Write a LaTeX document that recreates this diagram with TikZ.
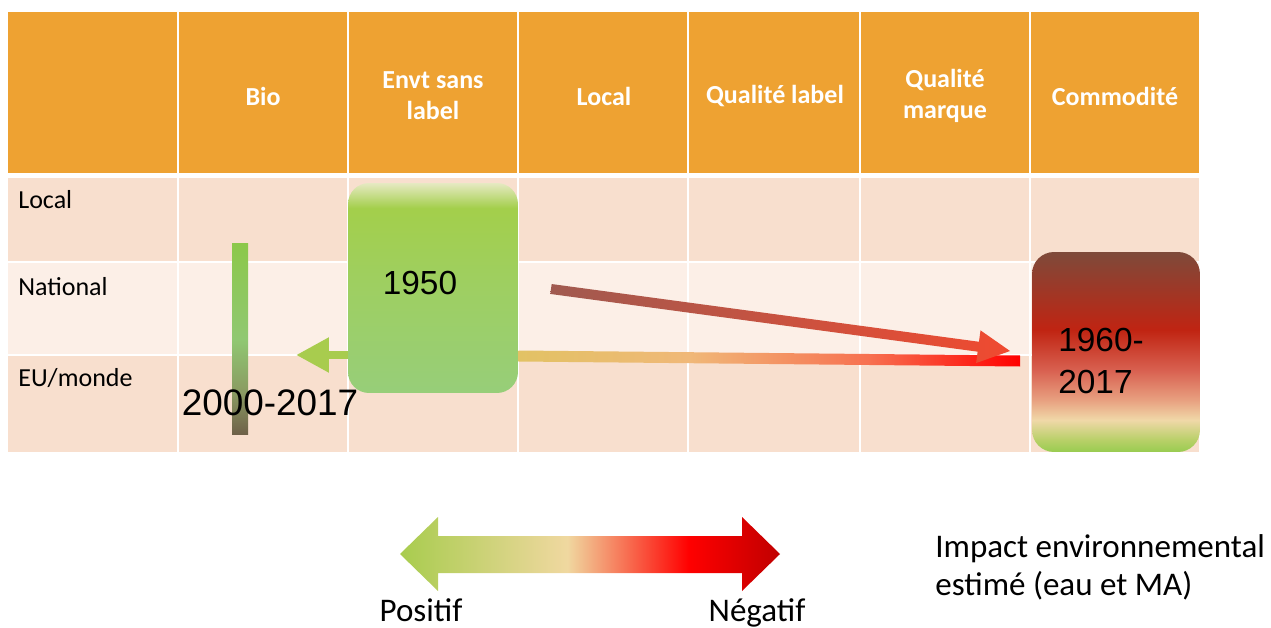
\documentclass[tikz,border=0pt]{standalone}
\usepackage{fontspec}
\setmainfont{Carlito}
\newfontfamily\arialfont{Liberation Sans}
\usetikzlibrary{arrows.meta,positioning,calc}
\definecolor{hdrorange}{HTML}{EEA232}
\definecolor{rowpeach}{HTML}{F8DFCE}
\definecolor{rowlight}{HTML}{FCEFE7}
\definecolor{leafgreen}{HTML}{A8CC4E}
\definecolor{paleleaf}{HTML}{E6E9C2}
\definecolor{grassgreen}{HTML}{A3CF4B}
\definecolor{midgreen}{HTML}{9ECF62}
\definecolor{softgreen}{HTML}{97CE79}
\definecolor{mossgreen}{HTML}{8CC84A}
\definecolor{sagegreen}{HTML}{90C872}
\definecolor{olivegrey}{HTML}{8A9A62}
\definecolor{mudbrown}{HTML}{6E6048}
\definecolor{rustbrown}{HTML}{7E4A3A}
\definecolor{bloodred}{HTML}{C02412}
\definecolor{salmon}{HTML}{D86050}
\definecolor{peachpink}{HTML}{E8A080}
\definecolor{wheat}{HTML}{F0D8A8}
\definecolor{limewash}{HTML}{B8D068}
\definecolor{springgreen}{HTML}{98CC50}
\definecolor{straw}{HTML}{E2C264}
\definecolor{apricot}{HTML}{F0B878}
\definecolor{coral}{HTML}{F77050}
\definecolor{purered}{HTML}{FF0000}
\definecolor{darkred}{HTML}{C00000}
\definecolor{beige}{HTML}{F0D8A0}
\definecolor{brickbrown}{HTML}{A05A50}
\definecolor{flame}{HTML}{F04A30}
\pgfdeclareverticalshading{fiftyshade}{100bp}{color(0bp)=(softgreen); color(25bp)=(softgreen);
  color(50bp)=(midgreen); color(69bp)=(grassgreen); color(75bp)=(paleleaf); color(100bp)=(paleleaf)}
\pgfdeclareverticalshading{bioshade}{100bp}{color(0bp)=(mudbrown); color(25bp)=(mudbrown);
  color(36bp)=(olivegrey); color(50bp)=(sagegreen); color(75bp)=(mossgreen); color(100bp)=(mossgreen)}
\pgfdeclareverticalshading{commoshade}{100bp}{color(0bp)=(springgreen); color(25bp)=(springgreen);
  color(28bp)=(limewash); color(33bp)=(wheat); color(38bp)=(peachpink); color(45.5bp)=(salmon);
  color(55.5bp)=(bloodred); color(75bp)=(rustbrown); color(100bp)=(rustbrown)}
\pgfdeclarehorizontalshading{trendshade}{100bp}{color(0bp)=(straw); color(25bp)=(straw);
  color(42bp)=(apricot); color(60bp)=(coral); color(75bp)=(purered); color(100bp)=(purered)}
\pgfdeclarehorizontalshading{impactshade}{100bp}{color(0bp)=(leafgreen); color(25bp)=(leafgreen);
  color(47bp)=(beige); color(63bp)=(purered); color(75bp)=(darkred); color(100bp)=(darkred)}
\tikzset{
  gridline/.style={draw=white,line width=1.2pt},
  headtext/.style={font=\bfseries\fontsize{14.8}{17.6}\selectfont,text=white,align=center},
  rowtext/.style={font=\fontsize{14.8}{17.6}\selectfont,anchor=west,inner sep=0pt},
  yeartext/.style={font=\arialfont\fontsize{19}{24}\selectfont,align=left,inner sep=0pt},
  legendtext/.style={font=\fontsize{18.8}{21.5}\selectfont,align=left,inner sep=0pt},
  periodbox/.style={shade,rounded corners=0.42cm,inner sep=0pt},
}

\begin{document}
\begin{tikzpicture}[x=0.02cm,y=-0.02cm]
  \useasboundingbox (0,0) rectangle (1271,628);
  % table
  \fill[hdrorange] (8,12) rectangle (1199,173);
  \fill[rowpeach] (8,178) rectangle (1199,262);
  \fill[rowlight] (8,262) rectangle (1199,355);
  \fill[rowpeach] (8,355) rectangle (1199,452);
  \draw[gridline] (8,262) -- (1199,262) (8,355) -- (1199,355);
  \foreach \x in {178,348,518,688,860,1030}
    \draw[gridline] (\x,12) -- (\x,452);
  \foreach \x/\txt [count=\i] in {263/Bio, 433/{Envt sans\\label}, 604/Local,
      775/{Qualité label}, 945/{Qualité\\marque}, 1115/Commodité}
    \node[headtext] (head\i) at (\x,96) {\txt};
  \node[rowtext] (rowlocal) at (18,200) {Local};
  \node[rowtext] (rownat) at (18,287) {National};
  \node[rowtext] (roweu) at (18,378) {EU/monde};

  % periods
  \node[shade,shading=bioshade,minimum width=0.32cm,minimum height=3.84cm,inner sep=0pt] (biobar) at (240,339) {};
  \node[periodbox,shading=fiftyshade,minimum width=3.4cm,minimum height=4.2cm] (box1950) at (433,288) {};
  \node[periodbox,shading=commoshade,minimum width=3.36cm,minimum height=4cm,rounded corners=0.44cm] (box1960) at (1116,352) {};

  % moves between periods
  \coordinate (bioend) at (296,355);
  \draw[leafgreen,line width=5pt,-{Triangle[length=0.66cm,width=0.66cm]}] (box1950.west |- bioend) -- (bioend);
  \coordinate (trendend) at (1020,361);
  \path (box1950.east |- 0,356) coordinate (trendstart);
  \shade[shading=trendshade] ($(trendstart)+(0,-5.5)$) -- ($(trendend)+(0,-5.5)$)
    -- ($(trendend)+(0,5.5)$) -- ($(trendstart)+(0,5.5)$) -- cycle;
  \coordinate (shiftstart) at (551,289);
  \coordinate (shifttip) at (1010,351);
  \coordinate (shifthead) at ($(shifttip)!0.64cm!(shiftstart)$);
  \shade[left color=brickbrown,right color=flame]
    ($(shiftstart)!0.1cm!90:(shifttip)$) -- ($(shifthead)!0.1cm!-90:(shiftstart)$)
    -- ($(shifthead)!0.33cm!-90:(shiftstart)$) -- (shifttip)
    -- ($(shifthead)!0.33cm!90:(shiftstart)$) -- ($(shifthead)!0.1cm!90:(shiftstart)$)
    -- ($(shiftstart)!0.1cm!-90:(shifttip)$) -- cycle;

  \node[yeartext,font=\arialfont\fontsize{21}{24}\selectfont] (year2000) at (270,403) {2000-2017};
  \node[yeartext] (year1950) at (420,283) {1950};
  \node[yeartext,anchor=west] (year1960) at (1058,361) {1960-\\2017};

  % impact scale
  \shade[shading=impactshade] (400,554) -- (438,517) -- (438,536) -- (742,536) -- (742,517)
    -- (780,554) -- (742,591) -- (742,573) -- (438,573) -- (438,591) -- cycle;
  \node[legendtext,anchor=base] (positif) at (421,621) {Positif};
  \node[legendtext,anchor=base] (negatif) at (757,621) {Négatif};
  \node[legendtext,anchor=west] (impact) at (935,567) {Impact environnemental\\estimé (eau et MA)};
\end{tikzpicture}
\end{document}
